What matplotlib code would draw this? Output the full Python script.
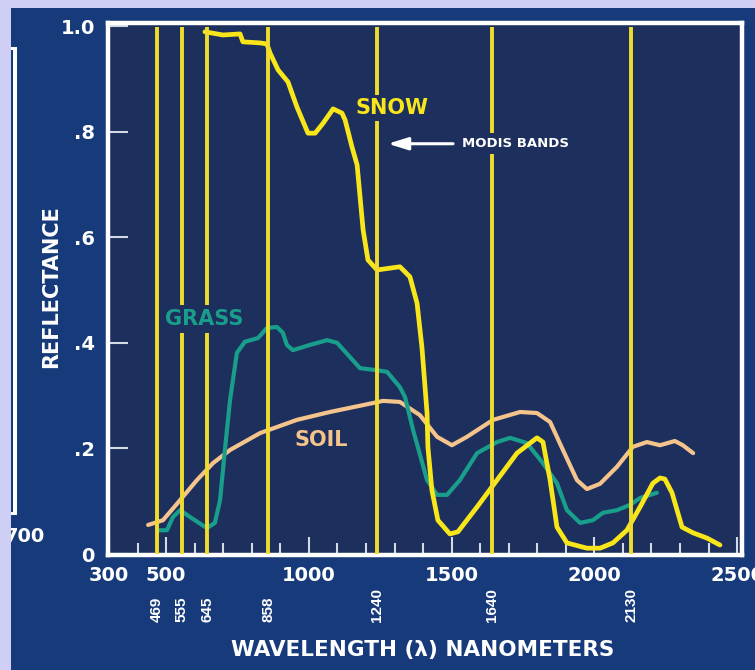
import matplotlib
matplotlib.use('Agg')
import matplotlib.pyplot as plt
from matplotlib.patches import Rectangle
from matplotlib.transforms import blended_transform_factory

# ---------------- data ----------------
snow_nm = [636, 699, 759, 769, 829, 853, 864, 892, 927, 958, 997, 1022, 1050, 1085,
           1116, 1127, 1151, 1169, 1190, 1207, 1239, 1319, 1354, 1379, 1396, 1414,
           1417, 1431, 1452, 1494, 1522, 1589, 1659, 1729, 1799, 1820, 1845, 1869,
           1904, 1974, 2020, 2065, 2114, 2160, 2205, 2230, 2247, 2272, 2307, 2346,
           2395, 2440]
snow_r = [0.989, 0.983, 0.985, 0.970, 0.968, 0.966, 0.949, 0.917, 0.894, 0.847, 0.797,
          0.797, 0.816, 0.843, 0.835, 0.822, 0.771, 0.737, 0.614, 0.557, 0.538, 0.544,
          0.525, 0.475, 0.392, 0.267, 0.203, 0.121, 0.064, 0.038, 0.042, 0.089, 0.140,
          0.191, 0.220, 0.212, 0.140, 0.051, 0.021, 0.011, 0.011, 0.021, 0.045, 0.089,
          0.134, 0.144, 0.142, 0.116, 0.051, 0.040, 0.030, 0.017]

grass_nm = [472, 503, 524, 549, 584, 643, 671, 689, 706, 724, 748, 776, 822, 853, 888,
            909, 923, 944, 1004, 1064, 1099, 1144, 1179, 1239, 1274, 1319, 1337, 1365,
            1414, 1449, 1484, 1529, 1589, 1659, 1705, 1764, 1820, 1869, 1904, 1950,
            1995, 2030, 2079, 2125, 2160, 2219]
grass_r = [0.045, 0.045, 0.070, 0.083, 0.070, 0.049, 0.059, 0.102, 0.197, 0.292, 0.381,
           0.402, 0.409, 0.428, 0.430, 0.419, 0.396, 0.386, 0.396, 0.405, 0.400, 0.373,
           0.352, 0.348, 0.345, 0.316, 0.297, 0.235, 0.140, 0.112, 0.112, 0.140, 0.191,
           0.212, 0.220, 0.210, 0.172, 0.134, 0.083, 0.059, 0.064, 0.078, 0.083, 0.093,
           0.106, 0.116]

soil_nm = [437, 489, 549, 608, 664, 724, 829, 958, 1074, 1190, 1260, 1319, 1389, 1449,
           1501, 1554, 1645, 1740, 1799, 1845, 1890, 1939, 1974, 2020, 2079, 2135,
           2184, 2230, 2282, 2310, 2346]
soil_r = [0.055, 0.064, 0.102, 0.140, 0.172, 0.197, 0.229, 0.254, 0.269, 0.282, 0.290,
          0.288, 0.263, 0.222, 0.206, 0.222, 0.254, 0.269, 0.267, 0.250, 0.197, 0.140,
          0.123, 0.133, 0.165, 0.203, 0.212, 0.206, 0.214, 0.206, 0.191]

modis_bands = [469, 555, 645, 858, 1240, 1640, 2130]
x_major = [300, 500, 1000, 1500, 2000, 2500]
x_minor = [400, 600, 700, 800, 900, 1100, 1200, 1300, 1400, 1600, 1700, 1800, 1900,
           2100, 2200, 2300, 2400]
y_ticks = [0, 0.2, 0.4, 0.6, 0.8, 1.0]
y_ticklabels = ['0', '.2', '.4', '.6', '.8', '1.0']

# ---------------- style ----------------
W, H = 755, 670
LAV = '#cfcff6'
OUTER = '#173b7a'
INNER = '#1c2f5d'
SNOW = '#f8e61a'
BAND = '#efdc2e'
GRASS = '#1a9e8c'
SOIL = '#f5c38c'
WHITE = '#ffffff'
TICKC = '#d4d9e6'

plt.rcParams['font.family'] = ['DejaVu Sans']
plt.rcParams['font.weight'] = 'bold'

fig = plt.figure(figsize=(W / 100, H / 100), dpi=100, facecolor=OUTER)

# axes placed in pixel geometry
L, R, T, B = 107.5, 742, 23, 555
ax = fig.add_axes([L / W, 1 - B / H, (R - L) / W, (B - T) / H])
ax.set_facecolor(INNER)
px_per_nm = 0.2855
x0 = 300 - (109 - L) / px_per_nm
ax.set_xlim(x0, x0 + (R - L) / px_per_nm)
ax.set_ylim(-1 / 528, 1 + 3 / 528)

for s in ax.spines.values():
    s.set_color(WHITE)
    s.set_linewidth(3.2)

ax.set_xticks(x_major)
ax.set_xticklabels([str(v) for v in x_major])
ax.set_xticks(x_minor, minor=True)
ax.set_yticks(y_ticks)
ax.set_yticklabels(y_ticklabels)
ax.tick_params(axis='x', which='major', direction='in', length=13, width=1.5,
               color=TICKC, labelcolor=WHITE, labelsize=14, pad=8)
ax.tick_params(axis='x', which='minor', direction='in', length=8.5, width=1.5,
               color=TICKC)
ax.tick_params(axis='y', which='major', direction='in', length=14.5, width=1.5,
               color=TICKC, labelcolor=WHITE, labelsize=14, pad=9)

# curves
ax.plot(soil_nm, soil_r, color=SOIL, lw=3.0, solid_joinstyle='round',
        solid_capstyle='round', zorder=2)
ax.plot(grass_nm, grass_r, color=GRASS, lw=3.0, solid_joinstyle='round',
        solid_capstyle='round', zorder=2.1)
ax.plot(snow_nm, snow_r, color=SNOW, lw=3.4, solid_joinstyle='round',
        solid_capstyle='round', zorder=2.2)

# MODIS band lines
ax.vlines(modis_bands, 0.0, 0.998, colors=BAND, lw=2.8, zorder=3)

blend = blended_transform_factory(ax.transData, ax.transAxes)
for b in modis_bands:
    ax.text(b, (B - 622) / (B - T), str(b), transform=blend, rotation=90,
            ha='center', va='bottom', fontsize=11, family='Liberation Sans',
            fontweight='bold', color=WHITE, clip_on=False)

box = dict(facecolor=INNER, edgecolor='none', pad=3.0)
ax.text(1290, 0.845, 'SNOW', color=SNOW, fontsize=15, ha='center', va='center',
        bbox=dict(facecolor=INNER, edgecolor='none', pad=2.2), zorder=6)
ax.text(633, 0.445, 'GRASS', color=GRASS, fontsize=15, ha='center', va='center',
        bbox=box, zorder=6)
ax.text(1043, 0.216, 'SOIL', color=SOIL, fontsize=15, ha='center', va='center',
        bbox=box, zorder=6)
ax.text(1536, 0.777, 'MODIS BANDS', color=WHITE, fontsize=9.5, ha='left',
        va='center', bbox=dict(facecolor=INNER, edgecolor='none', pad=3), zorder=6)
ax.annotate('', xy=(1277, 0.777), xytext=(1505, 0.777),
            arrowprops=dict(arrowstyle='-|>,head_length=0.8,head_width=0.25',
                            color=WHITE, lw=2.2, mutation_scale=15,
                            shrinkA=0, shrinkB=0), zorder=6)

# axis titles
fig.text(51 / W, 1 - 287 / H, 'REFLECTANCE', rotation=90, ha='center',
         va='center', fontsize=15, color=WHITE)
fig.text(423 / W, 1 - 650 / H, 'WAVELENGTH (λ) NANOMETERS', ha='center',
         va='center', fontsize=15.5, color=WHITE)

# page decorations (cropped screenshot edges)
fig.text(45 / W, 1 - 537 / H, '700', ha='right', va='center', fontsize=14,
         color=WHITE, zorder=1)
def frect(x, y, w, h, c, z):
    fig.patches.append(Rectangle((x / W, 1 - (y + h) / H), w / W, h / H,
                                 transform=fig.transFigure, facecolor=c,
                                 edgecolor='none', zorder=z))
frect(12.5, 47, 4.5, 468, WHITE, 2)
frect(11, 47, 6, 3, WHITE, 2)
frect(11, 512, 6, 3, WHITE, 2)
frect(0, 0, W, 8, LAV, 3)
frect(0, 0, 11, H, LAV, 3)

fig.savefig('out.png', dpi=100, facecolor=OUTER)
